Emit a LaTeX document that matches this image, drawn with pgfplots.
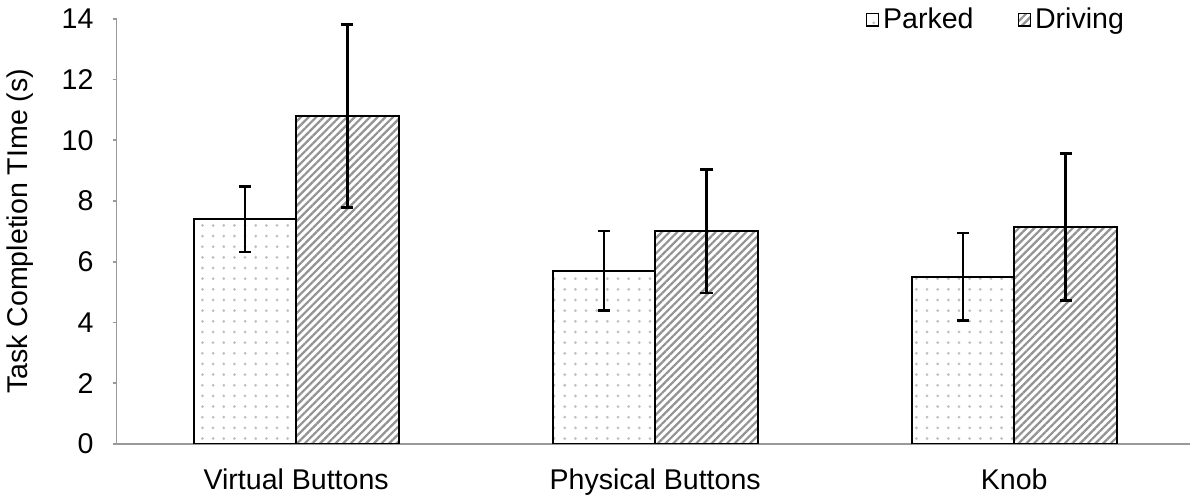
\documentclass[border=0pt]{standalone}
\usepackage{pgfplots}
\pgfplotsset{compat=1.18}
\usepackage{fontspec}
\setmainfont{Liberation Sans}
\usetikzlibrary{patterns.meta}
\begin{document}
\begin{tikzpicture}
\begin{axis}[
  scale only axis, width=534pt, height=211.5pt,
  ybar=0pt, bar width=51pt,
  xmin=-0.5, xmax=2.49, ymin=0, ymax=14,
  xtick={0,1,2}, xticklabels={Virtual Buttons, Physical Buttons, Knob},
  major x tick style={draw=none},
  extra x ticks={0.5,1.5}, extra x tick labels={},
  extra x tick style={tick align=inside, major tick length=3.5pt},
  ytick={0,2,...,14},
  axis lines*=left,
  axis line style={gray!80, line width=0.8pt},
  tick style={gray!80, line width=0.8pt},
  tick align=outside, major tick length=2pt,
  font=\fontsize{14.2pt}{16pt}\selectfont,
  /pgf/number format/assume math mode=true,
  ylabel={Task Completion TIme (s)},
  ylabel style={at={(axis description cs:-0.09,0.5)}, anchor=center},
  yticklabel style={xshift=-6pt},
  xticklabel style={yshift=-7pt},
  legend style={at={(axis description cs:0.948,1.045)}, anchor=north east, draw=none, fill=none,
    legend columns=2, /tikz/every even column/.append style={column sep=20pt}},
  legend image code/.code={\draw[#1, line width=0.6pt] (0pt,-3pt) rectangle (6pt,3pt);},
  error bars/y dir=both, error bars/y explicit,
  error bars/error mark options={rotate=90, mark size=3pt, line width=1.2pt, black},
  error bars/error bar style={line width=1.2pt, black},
]
\addplot[draw=black, line width=1pt, pattern={Dots[distance=5.3pt, radius=0.75pt]}, pattern color=gray!50]
  table[x=x, y=y, y error=e] {
x y e
0 7.40 1.08
1 5.70 1.31
2 5.50 1.44
};
\addplot[draw=black, line width=1pt, pattern={Lines[angle=45, distance=2.7pt, line width=1.1pt]}, pattern color=gray!85]
  table[x=x, y=y, y error=e] {
x y e
0 10.80 3.01
1 7.00 2.03
2 7.14 2.42
};
\legend{Parked, Driving}
\end{axis}
\end{tikzpicture}
\end{document}
